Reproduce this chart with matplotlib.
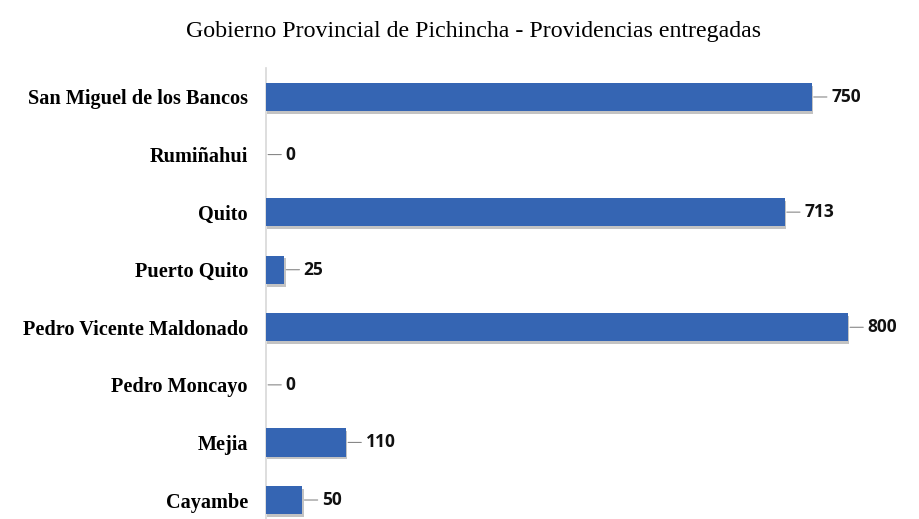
import matplotlib.pyplot as plt
import matplotlib.patheffects as pe

# Providencias entregadas por cantón
cantones = ["San Miguel de los Bancos", "Rumiñahui", "Quito", "Puerto Quito",
            "Pedro Vicente Maldonado", "Pedro Moncayo", "Mejia", "Cayambe"]
providencias = [750, 0, 713, 25, 800, 0, 110, 50]

W, H = 919, 519
fig = plt.figure(figsize=(W / 100, H / 100), dpi=100)
ax = fig.add_axes([266 / W, (H - 528.8) / H, (880 - 266) / W, 460.6 / H])

pos = list(range(len(cantones)))[::-1]
bars = ax.barh(pos, providencias, height=0.49, color="#3565b3", zorder=3)
for b in bars:
    b.set_path_effects([pe.SimplePatchShadow(offset=(1, -2), shadow_rgbFace="#555555", alpha=0.35),
                        pe.Normal()])

for y, v in zip(pos, providencias):
    ax.annotate(str(v), xy=(v, y), xytext=(14, 0), textcoords="offset points",
                ha="left", va="center", fontsize=12.5, fontweight="bold",
                family="Open Sans", color="#111111",
                arrowprops=dict(arrowstyle="-", color="#888888", lw=0.8,
                                shrinkA=1, shrinkB=1.5))

ax.set_xlim(0, 844)
ax.set_ylim(-0.5, len(cantones) - 0.5)
ax.set_yticks(pos)
ax.set_yticklabels(cantones, family="Liberation Serif", fontweight="bold", fontsize=14.6)
ax.tick_params(axis="y", length=0, pad=13)
ax.set_xticks([])
for s in ["top", "right", "bottom"]:
    ax.spines[s].set_visible(False)
ax.spines["left"].set_color("#d8d8d8")
ax.spines["left"].set_linewidth(1.2)

fig.text(474 / W, 1 - 31 / H, "Gobierno Provincial de Pichincha - Providencias entregadas",
         ha="center", va="center", family="Liberation Serif", fontsize=17.2)

fig.savefig("out.png", dpi=100)
